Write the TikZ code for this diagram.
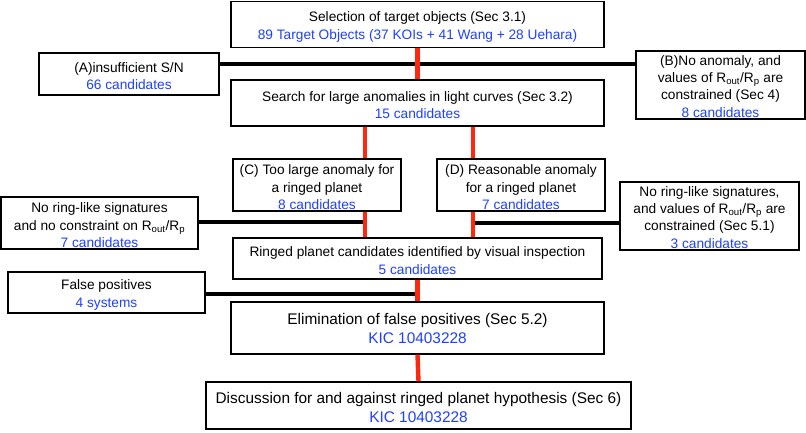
\documentclass[tikz,border=0pt]{standalone}
\usepackage{fontspec}
\setmainfont{Liberation Sans}
\definecolor{cblue}{RGB}{30,64,255}
\definecolor{cred}{RGB}{255,40,15}
\newcommand\bl[1]{\textcolor{cblue}{#1}}
\newcommand\Rratio{R\textsubscript{out}/R\textsubscript{p}}
\newcommand\st{\rule{0pt}{14.3pt}}
\newcommand\sts{\rule{0pt}{12.5pt}}
\newcommand\stb{\rule{0pt}{15.5pt}}
\begin{document}
\begin{tikzpicture}[x=1pt,y=-1pt,
  box/.style={draw,line width=1.3pt,inner sep=0pt,align=center,fill=white,
    font=\fontsize{13.7}{17.6}\selectfont},
  tallbox/.style={box,font=\fontsize{13.7}{17.3}\selectfont},
  bigbox/.style={box,font=\fontsize{15.4}{19}\selectfont},
  blk/.style={line width=3.2pt,black},
  redl/.style={line width=4.4pt,cred}]
\useasboundingbox (0,0) rectangle (806,433);

% nodes
\node[box,minimum width=373pt,minimum height=46pt] (sel) at (417.5,24.5)
  {\st Selection of target objects (Sec 3.1)\\\bl{89 Target Objects (37 KOIs + 41 Wang + 28 Uehara)}};
\node[box,minimum width=180pt,minimum height=42pt] (A) at (129,74)
  {\st(A)insufficient S/N\\\bl{66 candidates}};
\node[tallbox,minimum width=169pt,minimum height=68pt] (B) at (720.5,85)
  {\sts(B)No anomaly, and\\values of \Rratio{} are\\constrained (Sec 4)\\\bl{8 candidates}};
\node[box,minimum width=373pt,minimum height=46pt] (search) at (417.5,103)
  {\st Search for large anomalies in light curves (Sec 3.2)\\\bl{15 candidates}};
\node[box,minimum width=168pt,minimum height=52pt] (C) at (317,185)
  {\st(C) Too large anomaly for\\a ringed planet\\\bl{8 candidates}};
\node[box,minimum width=168pt,minimum height=52pt] (D) at (521,185)
  {\st(D) Reasonable anomaly\\for a ringed planet\\\bl{7 candidates}};
\node[box,minimum width=197pt,minimum height=52pt] (N1) at (99.5,223)
  {\st No ring-like signatures\\and no constraint on \Rratio\\\bl{7 candidates}};
\node[tallbox,minimum width=179pt,minimum height=68pt] (N2) at (709.5,216)
  {\sts No ring-like signatures,\\and values of \Rratio{} are\\constrained (Sec 5.1)\\\bl{3 candidates}};
\node[box,minimum width=369pt,minimum height=41pt] (ring) at (417.5,258.5)
  {\st Ringed planet candidates identified by visual inspection\\\bl{5 candidates}};
\node[box,minimum width=197pt,minimum height=41pt] (FP) at (106.5,292.5)
  {\st False positives\\\bl{4 systems}};
\node[bigbox,minimum width=373pt,minimum height=52pt] (elim) at (417.5,328)
  {Elimination of false positives (Sec 5.2)\\\bl{KIC 10403228}};
\node[bigbox,minimum width=425pt,minimum height=47pt] (disc) at (418.5,405.5)
  {\stb Discussion for and against ringed planet hypothesis (Sec 6)\\\bl{KIC 10403228}};

% junction coordinates
\coordinate (cl) at (365,0);
\coordinate (cr) at (473,0);
\coordinate (j0) at (sel.south |- 0,64);
\coordinate (j1) at (cl |- 0,222);
\coordinate (j2) at (cr |- 0,223);
\coordinate (j3) at (ring.south |- 0,294);

% black connectors
\draw[blk] (A.east |- j0) -- (B.west |- j0);
\draw[blk] (N1.east |- j1) -- (j1);
\draw[blk] (N2.west |- j2) -- (j2);
\draw[blk] (FP.east |- j3) -- (j3);

% red connectors
\draw[redl] (sel.south) -- (search.north);
\draw[redl] (search.south -| cl) -- (C.north -| cl);
\draw[redl] (C.south -| cl) -- (ring.north -| cl);
\draw[redl] (search.south -| cr) -- (D.north -| cr);
\draw[redl] (D.south -| cr) -- (ring.north -| cr);
\draw[redl] (ring.south) -- (elim.north);
\draw[redl] (elim.south) -- (disc.north);
\end{tikzpicture}
\end{document}
